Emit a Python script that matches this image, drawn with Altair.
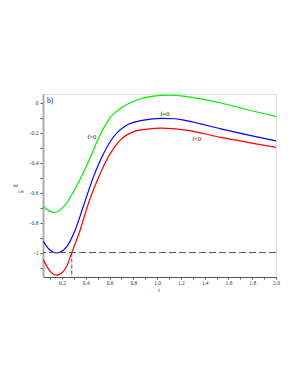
import altair as alt
import pandas as pd

# curve values
green_t = [0.042, 0.09, 0.141, 0.19, 0.24, 0.29, 0.35, 0.40, 0.45, 0.50, 0.55, 0.60, 0.65, 0.70, 0.78, 0.86, 0.97, 1.1, 1.25, 1.4, 1.536, 1.76, 2.0]
green_w = [-0.691, -0.722, -0.733, -0.712, -0.668, -0.603, -0.515, -0.432, -0.343, -0.25, -0.17, -0.105, -0.065, -0.035, 0.0, 0.025, 0.043, 0.05, 0.04, 0.02, -0.003, -0.048, -0.092]

blue_t = [0.042, 0.1, 0.155, 0.2, 0.24, 0.31, 0.38, 0.465, 0.55, 0.634, 0.747, 0.888, 1.03, 1.15, 1.254, 1.536, 1.76, 2.0]
blue_w = [-0.925, -0.985, -1.003, -0.99, -0.96, -0.851, -0.69, -0.494, -0.339, -0.228, -0.15, -0.117, -0.105, -0.108, -0.122, -0.175, -0.215, -0.255]

red_t = [0.042, 0.1, 0.155, 0.2, 0.24, 0.282, 0.352, 0.423, 0.522, 0.606, 0.69, 0.803, 0.916, 1.03, 1.254, 1.536, 1.76, 2.0]
red_w = [-1.047, -1.125, -1.151, -1.135, -1.09, -1.0, -0.851, -0.67, -0.472, -0.339, -0.25, -0.194, -0.177, -0.17, -0.185, -0.232, -0.265, -0.299]

level_w = -1.0
cross_t = 0.282

x_ticks = [round(0.1 * i, 1) for i in range(1, 21)]
y_ticks = [round(-0.1 * i, 1) for i in range(0, 12)]

X_DOM = [0.04, 2.0]
Y_DOM = [-1.163, 0.057]

rows = []
for t, w in zip(green_t, green_w):
    rows.append({"t": t, "w": w, "s": "g"})
for t, w in zip(blue_t, blue_w):
    rows.append({"t": t, "w": w, "s": "b"})
for t, w in zip(red_t, red_w):
    rows.append({"t": t, "w": w, "s": "r"})
df = pd.DataFrame(rows)

FONT = "Liberation Serif"

xscale = alt.Scale(domain=X_DOM, nice=False, zero=False)
yscale = alt.Scale(domain=Y_DOM, nice=False, zero=False)

xaxis = alt.Axis(
    values=x_ticks, tickCount=40, title=None, grid=False, labelOverlap=False,
    labelExpr="round(datum.value*10)%2==0 ? format(datum.value,'.1f') : ''",
    labelFont=FONT, labelFontSize=5.5, labelColor="#333",
    tickColor="#555", tickSize=2, domainColor="#555", domainWidth=1,
    labelPadding=1, labelFlush=False,
)
yaxis = alt.Axis(
    values=y_ticks, tickCount=40, title=None, grid=False, labelOverlap=False,
    labelExpr="round(datum.value*10)%2==0 ? (datum.value==0 ? '0' : (datum.value<-0.95 ? '\u22121' : '\u2212'+format(-datum.value,'.1f'))) : ''",
    labelFont=FONT, labelFontSize=5.5, labelColor="#333",
    tickColor="#555", tickSize=3, domainColor="#aaa", domainWidth=2,
    labelPadding=2, labelFlush=False,
)

lines = alt.Chart(df).mark_line(strokeWidth=1.2, interpolate="monotone", clip=True).encode(
    x=alt.X("t:Q", scale=xscale, axis=xaxis),
    y=alt.Y("w:Q", scale=yscale, axis=yaxis),
    color=alt.Color("s:N", scale=alt.Scale(domain=["g", "b", "r"], range=["#00ee00", "#0000ff", "#ff0000"]), legend=None),
    detail="s:N",
)

hline = alt.Chart(pd.DataFrame({"w": [level_w]})).mark_rule(
    color="#555", strokeWidth=1, strokeDash=[7, 3]
).encode(y=alt.Y("w:Q"))

vline = alt.Chart(pd.DataFrame({"t": [cross_t], "w": [level_w], "w2": [Y_DOM[0]]})).mark_rule(
    color="#555", strokeWidth=1, strokeDash=[4, 2]
).encode(x=alt.X("t:Q"), y=alt.Y("w:Q"), y2="w2:Q")

def label(text, x, y, size=6.5, align="center"):
    return alt.Chart(pd.DataFrame({"l": [text]})).mark_text(
        font=FONT, fontSize=size, color="#222", fill="#222", align=align, baseline="middle"
    ).encode(text="l:N", x=alt.value(x), y=alt.value(y))

texts = [
    label("b)", 4, 7, size=7.5, align="left"),
    label("f>0", 48.7, 42.7),
    label("f=0", 122, 20),
    label("f<0", 153.7, 44.7),
    label("\u03c9", -27.3, 91, size=6.5),
    label("eff", -22, 96.5, size=5),
    label("t", 116, 196, size=5.5),
]

chart = alt.layer(lines, hline, vline, *texts).properties(
    width=233, height=183,
    padding={"left": 35, "top": 86, "right": 14, "bottom": 100},
    autosize=alt.AutoSizeParams(type="none"),
).configure_view(stroke="#888", strokeWidth=1).configure(background="white")

chart.save("out.html", embed_options={"renderer": "svg", "actions": False})
